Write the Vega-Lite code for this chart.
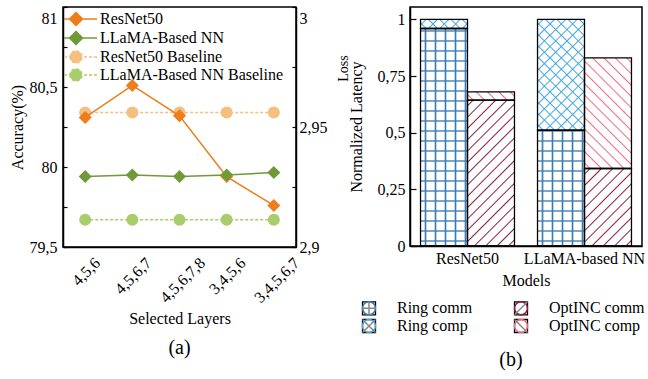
{
  "$schema": "https://vega.github.io/schema/vega-lite/v6.json",
  "background": "white",
  "padding": {"left": 8, "top": 5, "right": 0, "bottom": 0},
  "params": [
    {"name": "gBlue", "value": [
      {"offset":0.014,"color":"#3a7bb300"},{"offset":0.02,"color":"#3a7bb3"},{"offset":0.026,"color":"#3a7bb300"},
      {"offset":0.054,"color":"#3a7bb300"},{"offset":0.06,"color":"#3a7bb3"},{"offset":0.066,"color":"#3a7bb300"},
      {"offset":0.094,"color":"#3a7bb300"},{"offset":0.1,"color":"#3a7bb3"},{"offset":0.106,"color":"#3a7bb300"},
      {"offset":0.134,"color":"#3a7bb300"},{"offset":0.14,"color":"#3a7bb3"},{"offset":0.146,"color":"#3a7bb300"},
      {"offset":0.174,"color":"#3a7bb300"},{"offset":0.18,"color":"#3a7bb3"},{"offset":0.186,"color":"#3a7bb300"},
      {"offset":0.214,"color":"#3a7bb300"},{"offset":0.22,"color":"#3a7bb3"},{"offset":0.226,"color":"#3a7bb300"},
      {"offset":0.254,"color":"#3a7bb300"},{"offset":0.26,"color":"#3a7bb3"},{"offset":0.266,"color":"#3a7bb300"},
      {"offset":0.294,"color":"#3a7bb300"},{"offset":0.3,"color":"#3a7bb3"},{"offset":0.306,"color":"#3a7bb300"},
      {"offset":0.334,"color":"#3a7bb300"},{"offset":0.34,"color":"#3a7bb3"},{"offset":0.346,"color":"#3a7bb300"},
      {"offset":0.374,"color":"#3a7bb300"},{"offset":0.38,"color":"#3a7bb3"},{"offset":0.386,"color":"#3a7bb300"},
      {"offset":0.414,"color":"#3a7bb300"},{"offset":0.42,"color":"#3a7bb3"},{"offset":0.426,"color":"#3a7bb300"},
      {"offset":0.454,"color":"#3a7bb300"},{"offset":0.46,"color":"#3a7bb3"},{"offset":0.466,"color":"#3a7bb300"},
      {"offset":0.494,"color":"#3a7bb300"},{"offset":0.5,"color":"#3a7bb3"},{"offset":0.506,"color":"#3a7bb300"},
      {"offset":0.534,"color":"#3a7bb300"},{"offset":0.54,"color":"#3a7bb3"},{"offset":0.546,"color":"#3a7bb300"},
      {"offset":0.574,"color":"#3a7bb300"},{"offset":0.58,"color":"#3a7bb3"},{"offset":0.586,"color":"#3a7bb300"},
      {"offset":0.614,"color":"#3a7bb300"},{"offset":0.62,"color":"#3a7bb3"},{"offset":0.626,"color":"#3a7bb300"},
      {"offset":0.654,"color":"#3a7bb300"},{"offset":0.66,"color":"#3a7bb3"},{"offset":0.666,"color":"#3a7bb300"},
      {"offset":0.694,"color":"#3a7bb300"},{"offset":0.7,"color":"#3a7bb3"},{"offset":0.706,"color":"#3a7bb300"},
      {"offset":0.734,"color":"#3a7bb300"},{"offset":0.74,"color":"#3a7bb3"},{"offset":0.746,"color":"#3a7bb300"},
      {"offset":0.774,"color":"#3a7bb300"},{"offset":0.78,"color":"#3a7bb3"},{"offset":0.786,"color":"#3a7bb300"},
      {"offset":0.814,"color":"#3a7bb300"},{"offset":0.82,"color":"#3a7bb3"},{"offset":0.826,"color":"#3a7bb300"},
      {"offset":0.854,"color":"#3a7bb300"},{"offset":0.86,"color":"#3a7bb3"},{"offset":0.866,"color":"#3a7bb300"}
    ]},
    {"name": "gSky", "value": [
      {"offset":0.015,"color":"#41a7e300"},{"offset":0.02,"color":"#41a7e3"},{"offset":0.025,"color":"#41a7e300"},
      {"offset":0.055,"color":"#41a7e300"},{"offset":0.06,"color":"#41a7e3"},{"offset":0.065,"color":"#41a7e300"},
      {"offset":0.095,"color":"#41a7e300"},{"offset":0.1,"color":"#41a7e3"},{"offset":0.105,"color":"#41a7e300"},
      {"offset":0.135,"color":"#41a7e300"},{"offset":0.14,"color":"#41a7e3"},{"offset":0.145,"color":"#41a7e300"},
      {"offset":0.175,"color":"#41a7e300"},{"offset":0.18,"color":"#41a7e3"},{"offset":0.185,"color":"#41a7e300"},
      {"offset":0.215,"color":"#41a7e300"},{"offset":0.22,"color":"#41a7e3"},{"offset":0.225,"color":"#41a7e300"},
      {"offset":0.255,"color":"#41a7e300"},{"offset":0.26,"color":"#41a7e3"},{"offset":0.265,"color":"#41a7e300"},
      {"offset":0.295,"color":"#41a7e300"},{"offset":0.3,"color":"#41a7e3"},{"offset":0.305,"color":"#41a7e300"},
      {"offset":0.335,"color":"#41a7e300"},{"offset":0.34,"color":"#41a7e3"},{"offset":0.345,"color":"#41a7e300"},
      {"offset":0.375,"color":"#41a7e300"},{"offset":0.38,"color":"#41a7e3"},{"offset":0.385,"color":"#41a7e300"},
      {"offset":0.415,"color":"#41a7e300"},{"offset":0.42,"color":"#41a7e3"},{"offset":0.425,"color":"#41a7e300"},
      {"offset":0.455,"color":"#41a7e300"},{"offset":0.46,"color":"#41a7e3"},{"offset":0.465,"color":"#41a7e300"},
      {"offset":0.495,"color":"#41a7e300"},{"offset":0.5,"color":"#41a7e3"},{"offset":0.505,"color":"#41a7e300"},
      {"offset":0.535,"color":"#41a7e300"},{"offset":0.54,"color":"#41a7e3"},{"offset":0.545,"color":"#41a7e300"},
      {"offset":0.575,"color":"#41a7e300"},{"offset":0.58,"color":"#41a7e3"},{"offset":0.585,"color":"#41a7e300"},
      {"offset":0.615,"color":"#41a7e300"},{"offset":0.62,"color":"#41a7e3"},{"offset":0.625,"color":"#41a7e300"},
      {"offset":0.655,"color":"#41a7e300"},{"offset":0.66,"color":"#41a7e3"},{"offset":0.665,"color":"#41a7e300"},
      {"offset":0.695,"color":"#41a7e300"},{"offset":0.7,"color":"#41a7e3"},{"offset":0.705,"color":"#41a7e300"}
    ]},
    {"name": "gRed", "value": [
      {"offset":0.015,"color":"#8e1f4300"},{"offset":0.02,"color":"#8e1f43"},{"offset":0.025,"color":"#8e1f4300"},
      {"offset":0.055,"color":"#8e1f4300"},{"offset":0.06,"color":"#8e1f43"},{"offset":0.065,"color":"#8e1f4300"},
      {"offset":0.095,"color":"#8e1f4300"},{"offset":0.1,"color":"#8e1f43"},{"offset":0.105,"color":"#8e1f4300"},
      {"offset":0.135,"color":"#8e1f4300"},{"offset":0.14,"color":"#8e1f43"},{"offset":0.145,"color":"#8e1f4300"},
      {"offset":0.175,"color":"#8e1f4300"},{"offset":0.18,"color":"#8e1f43"},{"offset":0.185,"color":"#8e1f4300"},
      {"offset":0.215,"color":"#8e1f4300"},{"offset":0.22,"color":"#8e1f43"},{"offset":0.225,"color":"#8e1f4300"},
      {"offset":0.255,"color":"#8e1f4300"},{"offset":0.26,"color":"#8e1f43"},{"offset":0.265,"color":"#8e1f4300"},
      {"offset":0.295,"color":"#8e1f4300"},{"offset":0.3,"color":"#8e1f43"},{"offset":0.305,"color":"#8e1f4300"},
      {"offset":0.335,"color":"#8e1f4300"},{"offset":0.34,"color":"#8e1f43"},{"offset":0.345,"color":"#8e1f4300"},
      {"offset":0.375,"color":"#8e1f4300"},{"offset":0.38,"color":"#8e1f43"},{"offset":0.385,"color":"#8e1f4300"},
      {"offset":0.415,"color":"#8e1f4300"},{"offset":0.42,"color":"#8e1f43"},{"offset":0.425,"color":"#8e1f4300"},
      {"offset":0.455,"color":"#8e1f4300"},{"offset":0.46,"color":"#8e1f43"},{"offset":0.465,"color":"#8e1f4300"},
      {"offset":0.495,"color":"#8e1f4300"},{"offset":0.5,"color":"#8e1f43"},{"offset":0.505,"color":"#8e1f4300"},
      {"offset":0.535,"color":"#8e1f4300"},{"offset":0.54,"color":"#8e1f43"},{"offset":0.545,"color":"#8e1f4300"},
      {"offset":0.575,"color":"#8e1f4300"},{"offset":0.58,"color":"#8e1f43"},{"offset":0.585,"color":"#8e1f4300"},
      {"offset":0.615,"color":"#8e1f4300"},{"offset":0.62,"color":"#8e1f43"},{"offset":0.625,"color":"#8e1f4300"},
      {"offset":0.655,"color":"#8e1f4300"},{"offset":0.66,"color":"#8e1f43"},{"offset":0.665,"color":"#8e1f4300"},
      {"offset":0.695,"color":"#8e1f4300"},{"offset":0.7,"color":"#8e1f43"},{"offset":0.705,"color":"#8e1f4300"}
    ]},
    {"name": "gPink", "value": [
      {"offset":0.015,"color":"#f0697d00"},{"offset":0.02,"color":"#f0697d"},{"offset":0.025,"color":"#f0697d00"},
      {"offset":0.055,"color":"#f0697d00"},{"offset":0.06,"color":"#f0697d"},{"offset":0.065,"color":"#f0697d00"},
      {"offset":0.095,"color":"#f0697d00"},{"offset":0.1,"color":"#f0697d"},{"offset":0.105,"color":"#f0697d00"},
      {"offset":0.135,"color":"#f0697d00"},{"offset":0.14,"color":"#f0697d"},{"offset":0.145,"color":"#f0697d00"},
      {"offset":0.175,"color":"#f0697d00"},{"offset":0.18,"color":"#f0697d"},{"offset":0.185,"color":"#f0697d00"},
      {"offset":0.215,"color":"#f0697d00"},{"offset":0.22,"color":"#f0697d"},{"offset":0.225,"color":"#f0697d00"},
      {"offset":0.255,"color":"#f0697d00"},{"offset":0.26,"color":"#f0697d"},{"offset":0.265,"color":"#f0697d00"},
      {"offset":0.295,"color":"#f0697d00"},{"offset":0.3,"color":"#f0697d"},{"offset":0.305,"color":"#f0697d00"},
      {"offset":0.335,"color":"#f0697d00"},{"offset":0.34,"color":"#f0697d"},{"offset":0.345,"color":"#f0697d00"},
      {"offset":0.375,"color":"#f0697d00"},{"offset":0.38,"color":"#f0697d"},{"offset":0.385,"color":"#f0697d00"},
      {"offset":0.415,"color":"#f0697d00"},{"offset":0.42,"color":"#f0697d"},{"offset":0.425,"color":"#f0697d00"},
      {"offset":0.455,"color":"#f0697d00"},{"offset":0.46,"color":"#f0697d"},{"offset":0.465,"color":"#f0697d00"},
      {"offset":0.495,"color":"#f0697d00"},{"offset":0.5,"color":"#f0697d"},{"offset":0.505,"color":"#f0697d00"},
      {"offset":0.535,"color":"#f0697d00"},{"offset":0.54,"color":"#f0697d"},{"offset":0.545,"color":"#f0697d00"},
      {"offset":0.575,"color":"#f0697d00"},{"offset":0.58,"color":"#f0697d"},{"offset":0.585,"color":"#f0697d00"},
      {"offset":0.615,"color":"#f0697d00"},{"offset":0.62,"color":"#f0697d"},{"offset":0.625,"color":"#f0697d00"},
      {"offset":0.655,"color":"#f0697d00"},{"offset":0.66,"color":"#f0697d"},{"offset":0.665,"color":"#f0697d00"},
      {"offset":0.695,"color":"#f0697d00"},{"offset":0.7,"color":"#f0697d"},{"offset":0.705,"color":"#f0697d00"}
    ]}
  ],
  "spacing": 114,
  "bounds": "flush",
  "resolve": {
    "scale": {"color": "independent", "fill": "independent", "stroke": "independent", "shape": "independent"},
    "legend": {"color": "independent", "fill": "independent", "stroke": "independent", "shape": "independent"}
  },
  "hconcat": [
    {
      "width": 233,
      "height": 240,
      "data": {"values": [
        {"layers": "4,5,6", "series": "ResNet50", "acc": 80.31},
        {"layers": "4,5,6,7", "series": "ResNet50", "acc": 80.51},
        {"layers": "4,5,6,7,8", "series": "ResNet50", "acc": 80.32},
        {"layers": "3,4,5,6", "series": "ResNet50", "acc": 79.94},
        {"layers": "3,4,5,6,7", "series": "ResNet50", "acc": 79.76},
        {"layers": "4,5,6", "series": "LLaMA-Based NN", "acc": 79.94},
        {"layers": "4,5,6,7", "series": "LLaMA-Based NN", "acc": 79.95},
        {"layers": "4,5,6,7,8", "series": "LLaMA-Based NN", "acc": 79.94},
        {"layers": "3,4,5,6", "series": "LLaMA-Based NN", "acc": 79.95},
        {"layers": "3,4,5,6,7", "series": "LLaMA-Based NN", "acc": 79.965},
        {"layers": "4,5,6", "series": "ResNet50 Baseline", "acc": 80.34},
        {"layers": "4,5,6,7", "series": "ResNet50 Baseline", "acc": 80.34},
        {"layers": "4,5,6,7,8", "series": "ResNet50 Baseline", "acc": 80.34},
        {"layers": "3,4,5,6", "series": "ResNet50 Baseline", "acc": 80.34},
        {"layers": "3,4,5,6,7", "series": "ResNet50 Baseline", "acc": 80.34},
        {"layers": "4,5,6", "series": "LLaMA-Based NN Baseline", "acc": 79.67},
        {"layers": "4,5,6,7", "series": "LLaMA-Based NN Baseline", "acc": 79.67},
        {"layers": "4,5,6,7,8", "series": "LLaMA-Based NN Baseline", "acc": 79.67},
        {"layers": "3,4,5,6", "series": "LLaMA-Based NN Baseline", "acc": 79.67},
        {"layers": "3,4,5,6,7", "series": "LLaMA-Based NN Baseline", "acc": 79.67}
      ]},
      "title": {"text": "(a)", "orient": "bottom", "frame": "group", "anchor": "middle", "offset": 12, "fontSize": 20, "fontWeight": "normal", "font": "Liberation Serif", "color": "black"},
      "layer": [
        {
          "encoding": {
            "x": {
              "field": "layers", "type": "ordinal",
              "scale": {"type": "point", "padding": 0.47, "domain": ["4,5,6", "4,5,6,7", "4,5,6,7,8", "3,4,5,6", "3,4,5,6,7"]},
              "axis": {
                "title": "Selected Layers", "ticks": false, "labelAngle": -45, "labelAlign": "right", "labelBaseline": "middle",
                "labelPadding": 13, "titlePadding": 5, "labelFont": "Liberation Serif", "labelFontSize": 16,
                "labelOffset": {"condition": [{"test": "length(datum.label) <= 5", "value": 12}, {"test": "length(datum.label) <= 7", "value": 16}], "value": 22.5}
              }
            },
            "y": {
              "field": "acc", "type": "quantitative",
              "scale": {"domain": [79.5, 81], "nice": false, "zero": false},
              "axis": {
                "orient": "left", "title": "Accuracy(%)", "titlePadding": 4, "labelFont": "Liberation Serif", "labelFontSize": 16,
                "values": [79.5, 79.75, 80, 80.25, 80.5, 80.75, 81],
                "labelExpr": "round(datum.value*100) % 50 == 0 ? replace(toString(datum.value), '.', ',') : ''",
                "tickSize": -4, "labelPadding": 10,
                "labelOffset": {"condition": {"test": "datum.value == 81", "value": 11}, "value": 0}
              }
            },
            "color": {
              "field": "series", "type": "nominal",
              "scale": {"domain": ["ResNet50", "LLaMA-Based NN", "ResNet50 Baseline", "LLaMA-Based NN Baseline"], "range": ["#ee7d1c", "#6f9a37", "#f5bf80", "#a9cd6b"]},
              "legend": {
                "orient": "none", "legendX": 8.5, "legendY": 3, "title": null, "padding": 0,
                "symbolSize": 256, "labelOffset": 10.5, "rowPadding": -1.3, "labelFontSize": 16, "labelLimit": 0,
                "encode": {"symbols": {"update": {
                  "shape": {"signal": "indexof(datum.value,'Baseline')>=0 ? 'M-2.06,0H2.06M-1.31,0A0.75,0.75,0,1,0,0.19,0A0.75,0.75,0,1,0,-1.31,0Z' : 'M-2.06,0H2.06M-1.37,0L-0.56,-0.81L0.25,0L-0.56,0.81Z'"},
                  "stroke": {"signal": "datum.value=='ResNet50' ? '#ee7d1c' : datum.value=='LLaMA-Based NN' ? '#6f9a37' : datum.value=='ResNet50 Baseline' ? '#f5bf80' : '#a9cd6b'"},
                  "fill": {"signal": "datum.value=='ResNet50' ? '#ee7d1c' : datum.value=='LLaMA-Based NN' ? '#6f9a37' : datum.value=='ResNet50 Baseline' ? '#f5bf80' : '#a9cd6b'"},
                  "strokeDash": {"signal": "indexof(datum.value,'Baseline')>=0 ? [3,2] : [1,0]"},
                  "strokeWidth": {"value": 1.5},
                  "opacity": {"value": 1}
                }}}
              }
            }
          },
          "layer": [
            {"transform": [{"filter": "indexof(datum.series,'Baseline') >= 0"}], "mark": {"type": "line", "strokeWidth": 1.5, "strokeDash": [3, 2]}},
            {"transform": [{"filter": "indexof(datum.series,'Baseline') >= 0"}], "mark": {"type": "point", "filled": true, "shape": "circle", "size": 144, "opacity": 1}},
            {"transform": [{"filter": "indexof(datum.series,'Baseline') < 0"}], "mark": {"type": "line", "strokeWidth": 1.5}},
            {"transform": [{"filter": "indexof(datum.series,'Baseline') < 0"}], "mark": {"type": "point", "filled": true, "shape": "diamond", "size": 169, "opacity": 1}}
          ]
        },
        {
          "data": {"values": [{"loss": 2.95}]},
          "mark": {"type": "rule", "strokeOpacity": 0},
          "encoding": {
            "y": {
              "field": "loss", "type": "quantitative",
              "scale": {"domain": [2.9, 3], "nice": false, "zero": false},
              "axis": {
                "orient": "right", "title": "Loss", "titleAngle": 270, "titleX": 47, "titleY": 61, "titleFontSize": 14, "titleAlign": "center", "titleBaseline": "middle",
                "labelFont": "Liberation Serif", "labelFontSize": 16,
                "values": [2.9, 2.925, 2.95, 2.975, 3],
                "labelExpr": "round(datum.value*1000) % 50 == 0 ? replace(toString(datum.value), '.', ',') : ''",
                "tickSize": -4, "labelPadding": 7,
                "labelOffset": {"condition": {"test": "datum.value == 3", "value": 11}, "value": 0}
              }
            }
          }
        }
      ],
      "resolve": {"scale": {"y": "independent"}}
    },
    {
      "width": 232,
      "height": 239,
      "data": {"values": [
        {"model": "ResNet50", "method": "Ring", "part": "comm", "label": "Ring comm", "key": "Ring comm", "value": 0.96},
        {"model": "ResNet50", "method": "Ring", "part": "comp", "label": "Ring comp", "key": "Ring comp", "value": 0.04},
        {"model": "ResNet50", "method": "OptINC", "part": "comm", "label": "OptINC comm", "key": "OptINC comm", "value": 0.644},
        {"model": "ResNet50", "method": "OptINC", "part": "comp", "label": "OptINC comp", "key": "OptINC comp", "value": 0.036},
        {"model": "LLaMA-based NN", "method": "Ring", "part": "comm", "label": "Ring comm", "key": "Ring comm", "value": 0.511},
        {"model": "LLaMA-based NN", "method": "Ring", "part": "comp", "label": "Ring comp", "key": "Ring comp", "value": 0.489},
        {"model": "LLaMA-based NN", "method": "OptINC", "part": "comm", "label": "OptINC comm", "key": "OptINC comm", "value": 0.342},
        {"model": "LLaMA-based NN", "method": "OptINC", "part": "comp", "label": "OptINC comp", "key": "OptINC comp", "value": 0.488}
      ]},
      "transform": [
        {"stack": "value", "groupby": ["model", "method"], "sort": [{"field": "part", "order": "ascending"}], "as": ["v0", "v1"]}
      ],
      "title": {"text": "(b)", "orient": "bottom", "frame": "group", "anchor": "middle", "offset": 14, "dx": -15, "fontSize": 20, "fontWeight": "normal", "font": "Liberation Serif", "color": "black"},
      "encoding": {
        "x": {
          "field": "model", "type": "nominal",
          "scale": {"domain": ["ResNet50", "LLaMA-based NN"], "paddingInner": 0.197, "paddingOuter": 0.09},
          "axis": {"title": "Models", "labelAngle": 0, "ticks": false, "labelPadding": 4, "titlePadding": 6, "labelFont": "Liberation Serif", "labelFontSize": 16}
        },
        "xOffset": {"field": "method", "type": "nominal", "scale": {"domain": ["Ring", "OptINC"], "paddingInner": 0, "paddingOuter": 0}},
        "y": {
          "field": "v0", "type": "quantitative",
          "scale": {"domain": [0, 1.055], "nice": false, "zero": false},
          "axis": {
            "title": "Normalized Latency", "titlePadding": 13, "labelFont": "Liberation Serif", "labelFontSize": 16,
            "values": [0, 0.25, 0.5, 0.75, 1],
            "labelExpr": "replace(toString(datum.value), '.', ',')",
            "tickSize": -6, "labelPadding": 11
          }
        },
        "y2": {"field": "v1"}
      },
      "layer": [
        {
          "mark": {"type": "bar", "fill": {"expr": "datum.method=='Ring' ? (datum.part=='comm' ? {gradient:'linear',x1:0,y1:1,x2:0,y2:1-250/(datum.value*226.5),stops:gBlue} : {gradient:'linear',x1:0,y1:0,x2:13293.6/(2209+pow(datum.value*226.5,2)),y2:64063.3*datum.value/(2209+pow(datum.value*226.5,2)),stops:gSky}) : (datum.part=='comm' ? {gradient:'linear',x1:0,y1:0,x2:13293.6/(2209+pow(datum.value*226.5,2)),y2:64063.3*datum.value/(2209+pow(datum.value*226.5,2)),stops:gRed} : {gradient:'linear',x1:0,y1:1,x2:13293.6/(2209+pow(datum.value*226.5,2)),y2:1-64063.3*datum.value/(2209+pow(datum.value*226.5,2)),stops:gPink})"}}
        },
        {
          "transform": [{"filter": "datum.method == 'Ring'"}],
          "mark": {"type": "bar", "fill": {"expr": "datum.part=='comm' ? {gradient:'linear',x1:0,y1:0,x2:5.319,y2:0,stops:gBlue} : {gradient:'linear',x1:0,y1:1,x2:13293.6/(2209+pow(datum.value*226.5,2)),y2:1-64063.3*datum.value/(2209+pow(datum.value*226.5,2)),stops:gSky}"}}
        },
        {
          "mark": {"type": "bar", "strokeWidth": 1.3, "fill": "transparent"},
          "encoding": {
            "stroke": {
              "field": "label", "type": "nominal",
              "scale": {"domain": ["Ring comm", "Ring comp", "OptINC comm", "OptINC comp"], "range": ["black", "black", "black", "black"]},
              "legend": {
                "orient": "none", "legendX": -49, "legendY": 293, "title": null, "padding": 0,
                "columns": 2, "columnPadding": 38, "rowPadding": -2,
                "symbolSize": 169, "symbolType": "square", "symbolFillColor": "transparent", "symbolStrokeColor": "black", "symbolStrokeWidth": 1.3,
                "labelOffset": 20, "labelFontSize": 16, "labelLimit": 0
              }
            }
          }
        },
        {
          "mark": {"type": "point", "opacity": 0, "filled": false, "strokeWidth": 1.5},
          "encoding": {
            "y": {"field": "v1", "type": "quantitative"},
            "color": {
              "field": "key", "type": "nominal",
              "sort": ["Ring comm", "Ring comp", "OptINC comm", "OptINC comp"],
              "scale": {"range": ["#3a7bb3", "#41a7e3", "#8e1f43", "#f0697d"]},
              "legend": {
                "orient": "none", "legendX": -49, "legendY": 293, "title": null, "padding": 0,
                "columns": 2, "columnPadding": 38, "rowPadding": -2,
                "symbolSize": 169, "symbolFillColor": "transparent", "symbolStrokeWidth": 1.5,
                "labelOffset": 20, "labelFontSize": 16, "labelLimit": 0, "labelOpacity": 0
              }
            },
            "shape": {
              "field": "key", "type": "nominal",
              "sort": ["Ring comm", "Ring comp", "OptINC comm", "OptINC comp"],
              "scale": {"range": ["M-1,0H1M0,-1V1", "M-1,-1L1,1M-1,1L1,-1", "M-1,1L1,-1", "M-1,-1L1,1"]},
              "legend": {
                "orient": "none", "legendX": -49, "legendY": 293, "title": null, "padding": 0,
                "columns": 2, "columnPadding": 38, "rowPadding": -2,
                "symbolSize": 169, "symbolFillColor": "transparent", "symbolStrokeWidth": 1.5,
                "labelOffset": 20, "labelFontSize": 16, "labelLimit": 0, "labelOpacity": 0
              }
            }
          }
        }
      ]
    }
  ],
  "config": {
    "font": "Liberation Serif",
    "view": {"stroke": "black", "strokeWidth": 1.5},
    "axis": {
      "domainColor": "black", "domainWidth": 1.5, "tickColor": "black", "tickWidth": 1.2,
      "labelFont": "Liberation Serif", "titleFont": "Liberation Serif",
      "labelFontSize": 16, "titleFontSize": 16, "titleFontWeight": "normal",
      "labelColor": "black", "titleColor": "black", "grid": false,
      "labelOverlap": false, "labelBound": false, "labelFlush": false
    },
    "legend": {"labelFont": "Liberation Serif", "labelFontSize": 16, "labelColor": "black", "labelLimit": 0, "symbolBaseFillColor": "transparent"}
  }
}
